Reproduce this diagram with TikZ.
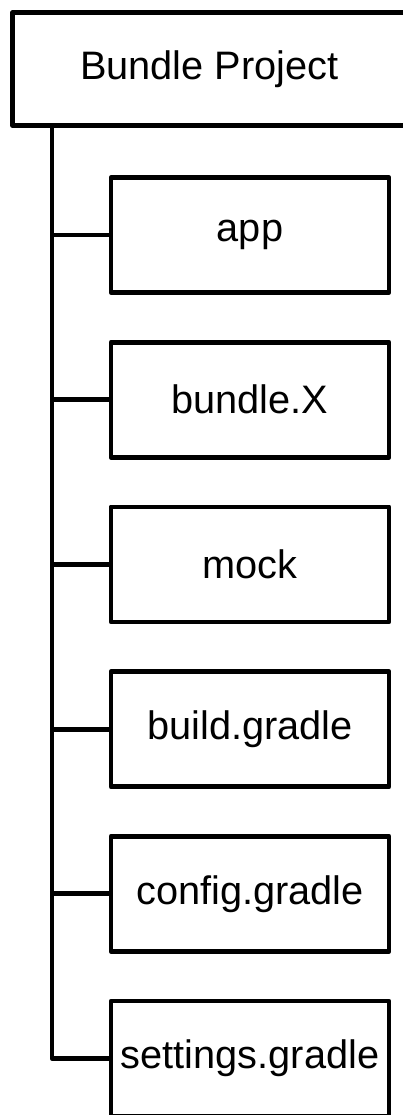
\documentclass[tikz,border=0pt]{standalone}
\usepackage{fontspec}
\setmainfont{Liberation Sans}
\begin{document}
\begin{tikzpicture}[x=0.75pt,y=-0.75pt,
  line width=3.6pt, line join=round,
  dirbox/.style={draw, fill=white, rectangle, inner sep=0pt, outer sep=0pt,
    minimum width=278*0.75pt, minimum height=115*0.75pt,
    font=\fontsize{29.8}{35}\selectfont},
  rootbox/.style={dirbox, minimum width=393.5*0.75pt, minimum height=113*0.75pt},
  branch/.style={draw, line cap=butt}]
\useasboundingbox (0,0) rectangle (403,1115);
\clip (0,0) rectangle (403,1115);
\fill[white] (0,0) rectangle (403,1115);

% root folder
\node[rootbox] (root) at (209.25,69) {Bundle Project};

% child entries
\foreach \name/\label [count=\i from 0] in
  {app/app, bundle/bundle.X, mock/mock, build/build.gradle,
   config/config.gradle, settings/settings.gradle}
  \node[dirbox] (\name) at (250,235+164.7*\i) {\label};

% trunk running down from the root
\coordinate (trunktop) at (52,0 |- root.south);
\coordinate (trunkend) at (52,0 |- settings.west);
\draw[branch] (trunktop) -- (trunkend) -- (settings.west);

% side branches to each entry
\foreach \name in {app,bundle,mock,build,config}
  \draw[branch] (52,0 |- \name.west) -- (\name.west);
\end{tikzpicture}
\end{document}
